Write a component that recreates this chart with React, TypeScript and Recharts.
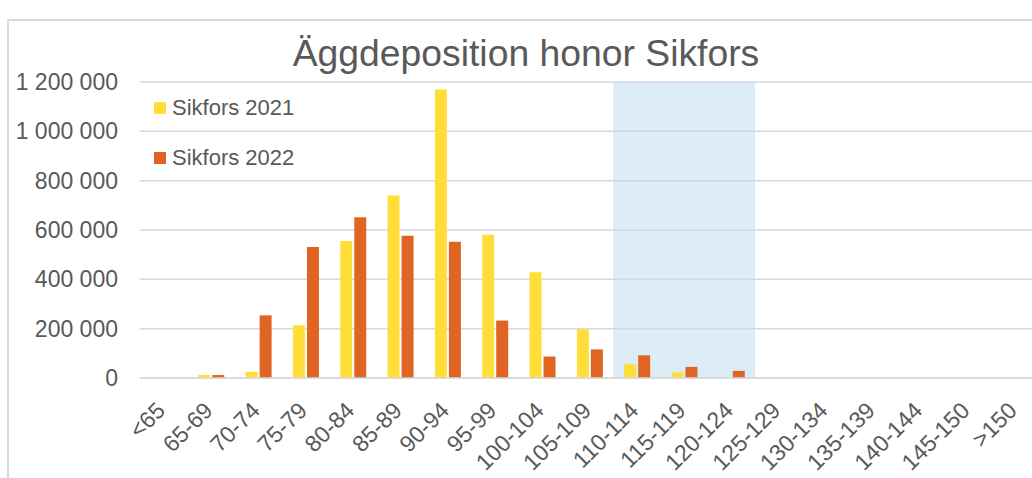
import React from "react";
import { BarChart, Bar, XAxis, YAxis, CartesianGrid, ReferenceArea, Legend } from "recharts";

const categories = ["<65", "65-69", "70-74", "75-79", "80-84", "85-89", "90-94", "95-99", "100-104", "105-109", "110-114", "115-119", "120-124", "125-129", "130-134", "135-139", "140-144", "145-150", ">150"];
const sikfors2021 = [0, 12000, 25000, 214000, 555000, 740000, 1170000, 581000, 429000, 197000, 56000, 23000, 0, 0, 0, 0, 0, 0, 0];
const sikfors2022 = [0, 12000, 254000, 531000, 652000, 577000, 552000, 233000, 87000, 116000, 92000, 45000, 29000, 0, 0, 0, 0, 0, 0];
const yTicks = [0, 200000, 400000, 600000, 800000, 1000000, 1200000];
const titleText = "Äggdeposition honor Sikfors";
const seriesNames = ["Sikfors 2021", "Sikfors 2022"];
const highlightFrom = "110-114";
const highlightTo = "120-124";

const data = categories.map((c, i) => ({ cat: c, s2021: sikfors2021[i], s2022: sikfors2022[i] }));

const FONT = "'Liberation Sans', Arial, sans-serif";
const TEXT = "#595959";
const YELLOW = "#FFDE3A";
const ORANGE = "#E06522";

const fmt = (v: number) => String(v).replace(/\B(?=(\d{3})+(?!\d))/g, " ");

const XTick = (props: any) => {
  const { x, y, payload } = props;
  return (
    <g transform={`translate(${x + 3},${y + 34})`}>
      <text transform="rotate(-45)" textAnchor="end" fill={TEXT} fontSize={23} fontFamily={FONT}>
        {payload.value}
      </text>
    </g>
  );
};

const LegendContent = (props: any) => {
  const { payload } = props;
  return (
    <div style={{ fontFamily: FONT, fontSize: 22, color: TEXT }}>
      {(payload || []).map((p: any, i: number) => (
        <div key={i} style={{ display: "flex", alignItems: "center", height: 50 }}>
          <div style={{ width: 12, height: 12, background: p.color, marginRight: 6 }} />
          <span>{p.value}</span>
        </div>
      ))}
    </div>
  );
};

export default function App() {
  return (
    <div style={{ position: "absolute", left: 0, top: 0, width: 1032, height: 478, overflow: "hidden", background: "#fff" }}>
      <div style={{ position: "absolute", left: 7, top: 19, width: 1100, height: 600, border: "2px solid #D9D9D9", boxSizing: "border-box" }} />
      <svg style={{ position: "absolute", left: 0, top: 0 }} width={1032} height={80}>
        <text x={526} y={66} textAnchor="middle" fill={TEXT} fontSize={37.3} fontFamily={FONT}>
          {titleText}
        </text>
      </svg>
      <div style={{ position: "absolute", left: 0, top: 0 }}>
        <BarChart width={1050} height={478} data={data} margin={{ top: 82, right: 11, bottom: 0, left: 0 }} barSize={12} barGap={2}>
          <ReferenceArea x1={highlightFrom} x2={highlightTo} y1={0} y2={1200000} fill="#BBDCF1" fillOpacity={0.5} stroke="none" ifOverflow="extendDomain" />
          <CartesianGrid vertical={false} stroke="#D9D9D9" strokeWidth={1.5} />
          <XAxis dataKey="cat" interval={0} tickLine={false} tickSize={0} tickMargin={0} height={100} axisLine={{ stroke: "#D9D9D9", strokeWidth: 1.5 }} tick={<XTick />} />
          <YAxis domain={[0, 1200000]} ticks={yTicks} tickFormatter={fmt} axisLine={false} tickLine={false} tickSize={0} tickMargin={22} width={140} tick={{ fill: TEXT, fontSize: 23, fontFamily: FONT }} />
          <Legend layout="vertical" align="center" verticalAlign="middle" content={<LegendContent />} wrapperStyle={{ left: 154, top: 83, width: 200, height: 100 }} />
          <Bar dataKey="s2021" name={seriesNames[0]} fill={YELLOW} isAnimationActive={false} />
          <Bar dataKey="s2022" name={seriesNames[1]} fill={ORANGE} isAnimationActive={false} />
        </BarChart>
      </div>
    </div>
  );
}
